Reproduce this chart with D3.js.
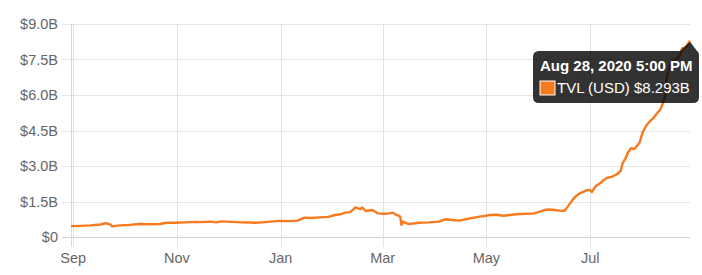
<!DOCTYPE html>
<html>
<head>
<meta charset="utf-8">
<script src="https://cdn.jsdelivr.net/npm/d3@7/dist/d3.min.js"></script>
<style>
  html, body { margin: 0; padding: 0; background: #fff; }
  svg { display: block; font-family: "Liberation Sans", Arial, sans-serif; }
</style>
</head>
<body>
<svg id="chart" width="702" height="275"></svg>
<script>
// ---- data ----
const dates = [
  "2019-08-30T17:00","2019-09-05","2019-09-11","2019-09-17","2019-09-20","2019-09-21","2019-09-23","2019-09-24",
  "2019-09-27","2019-10-01","2019-10-04","2019-10-10","2019-10-16","2019-10-22","2019-10-25","2019-10-28",
  "2019-10-31","2019-11-06","2019-11-12","2019-11-15","2019-11-21","2019-11-24","2019-11-27","2019-12-03",
  "2019-12-09","2019-12-14","2019-12-17","2019-12-23","2019-12-31","2020-01-06","2020-01-11","2020-01-15",
  "2020-01-19","2020-01-24","2020-01-29","2020-02-02","2020-02-05","2020-02-08","2020-02-11","2020-02-14",
  "2020-02-16","2020-02-17","2020-02-18","2020-02-20","2020-02-22","2020-02-24","2020-02-27","2020-03-02",
  "2020-03-05","2020-03-07","2020-03-09","2020-03-11","2020-03-11T12:00","2020-03-12","2020-03-13","2020-03-16",
  "2020-03-20","2020-03-22","2020-03-28","2020-04-03","2020-04-07","2020-04-11","2020-04-15","2020-04-21",
  "2020-04-27","2020-05-01","2020-05-03","2020-05-07","2020-05-11","2020-05-16","2020-05-20","2020-05-25",
  "2020-05-29","2020-06-01","2020-06-04","2020-06-07","2020-06-11","2020-06-13","2020-06-16","2020-06-17",
  "2020-06-19","2020-06-21","2020-06-23","2020-06-25","2020-06-27","2020-06-29","2020-07-01","2020-07-02",
  "2020-07-04","2020-07-07","2020-07-09","2020-07-11","2020-07-14","2020-07-17","2020-07-19","2020-07-20",
  "2020-07-22","2020-07-23","2020-07-25","2020-07-27","2020-07-28","2020-07-30","2020-08-01","2020-08-03",
  "2020-08-04","2020-08-06","2020-08-07","2020-08-09","2020-08-10","2020-08-11","2020-08-12","2020-08-14",
  "2020-08-14T12:00","2020-08-15","2020-08-16","2020-08-17","2020-08-18","2020-08-20","2020-08-21","2020-08-23",
  "2020-08-24","2020-08-26","2020-08-27","2020-08-28T17:00"
];
const tvl = [
  0.46,0.47,0.49,0.53,0.58,0.57,0.52,0.45,
  0.48,0.50,0.51,0.55,0.54,0.55,0.59,0.60,
  0.60,0.62,0.64,0.63,0.65,0.62,0.66,0.64,
  0.62,0.61,0.60,0.63,0.68,0.67,0.69,0.82,
  0.80,0.83,0.85,0.93,0.96,1.03,1.05,1.25,
  1.20,1.18,1.25,1.10,1.12,1.14,1.00,0.98,
  1.00,1.03,0.93,0.88,0.79,0.51,0.65,0.55,
  0.58,0.60,0.62,0.65,0.75,0.72,0.69,0.78,
  0.86,0.90,0.93,0.94,0.90,0.94,0.97,0.98,
  1.00,1.06,1.14,1.16,1.13,1.12,1.11,1.21,
  1.40,1.60,1.75,1.85,1.91,1.98,1.99,1.90,
  2.13,2.28,2.41,2.50,2.55,2.66,2.80,3.10,
  3.35,3.54,3.75,3.72,3.80,3.98,4.45,4.70,
  4.80,4.95,5.01,5.20,5.29,5.35,5.51,5.90,
  6.21,6.70,6.98,7.25,7.41,7.50,7.55,7.69,
  7.97,8.00,8.11,8.293
];
const yTicks = [0, 1.5, 3.0, 4.5, 6.0, 7.5, 9.0];
const yTickLabels = ["$0", "$1.5B", "$3.0B", "$4.5B", "$6.0B", "$7.5B", "$9.0B"];
const xTickDates = ["2019-09-01","2019-11-01","2020-01-01","2020-03-01","2020-05-01","2020-07-01"];
const xTickLabels = ["Sep","Nov","Jan","Mar","May","Jul"];
const seriesName = "TVL (USD)";
const tooltipTitle = "Aug 28, 2020 5:00 PM";
const tooltipValue = "$8.293B";

// ---- chart ----
(function () {
const parse = s => new Date(s.length > 10 ? s : s + "T00:00");
const data = dates.map((d, i) => ({ date: parse(d), value: tvl[i] }));

const svg = d3.select("#chart");
const mLeft = 71, mRight = 690, mTop = 24, mBottom = 237;
const lineColor = "#f77a1e";

const x = d3.scaleTime()
  .domain([data[0].date, data[data.length - 1].date])
  .range([mLeft, mRight]);
const y = d3.scaleLinear().domain([0, 9]).range([mBottom, mTop]);

// horizontal grid
const gH = svg.append("g");
yTicks.forEach((t, i) => {
  gH.append("line")
    .attr("x1", mLeft - 9).attr("x2", mRight)
    .attr("y1", Math.round(y(t)) + 0.5).attr("y2", Math.round(y(t)) + 0.5)
    .attr("stroke", i === 0 ? "#d2d2d2" : "#e6e6e6").attr("stroke-width", 1);
  gH.append("text")
    .attr("x", 58).attr("y", y(t))
    .attr("dy", "0.36em")
    .attr("text-anchor", "end")
    .attr("fill", "#666").attr("font-size", "14.5px")
    .text(yTickLabels[i]);
});

// vertical grid
const gV = svg.append("g");
xTickDates.forEach((d, i) => {
  const xx = Math.round(x(parse(d))) + 0.5;
  gV.append("line")
    .attr("x1", xx).attr("x2", xx)
    .attr("y1", mTop).attr("y2", mBottom + 10)
    .attr("stroke", "#e2e2e2").attr("stroke-width", 1);
  gV.append("text")
    .attr("x", x(parse(d))).attr("y", 263)
    .attr("text-anchor", "middle")
    .attr("fill", "#666").attr("font-size", "14.5px")
    .text(xTickLabels[i]);
});
// y axis line
svg.append("line")
  .attr("x1", mLeft + 0.5).attr("x2", mLeft + 0.5)
  .attr("y1", mTop).attr("y2", mBottom + 10)
  .attr("stroke", "#d8d8d8");

// line
const line = d3.line().x(d => x(d.date)).y(d => y(d.value));
svg.append("path")
  .datum(data)
  .attr("fill", "none")
  .attr("stroke", lineColor)
  .attr("stroke-width", 2.4)
  .attr("stroke-linejoin", "round")
  .attr("d", line);

// tooltip
const last = data[data.length - 1];
const px = x(last.date), py = y(last.value);
const tt = svg.append("g");
tt.append("path")
  .attr("d", `M539,51 H${px - 10} L${px},${py + 1} L${px + 7},51 Q699,51 699,57 V97 Q699,103 693,103 H539 Q533,103 533,97 V57 Q533,51 539,51 Z`)
  .attr("fill", "rgba(0,0,0,0.8)");
tt.append("text")
  .attr("x", 540).attr("y", 70.5)
  .attr("fill", "#fff").attr("font-size", "15px").attr("font-weight", "bold")
  .text(tooltipTitle);
tt.append("rect")
  .attr("x", 540).attr("y", 81).attr("width", 15).attr("height", 14)
  .attr("fill", lineColor).attr("stroke", "#fff").attr("stroke-width", 1);
tt.append("text")
  .attr("x", 557).attr("y", 93)
  .attr("fill", "#fff").attr("font-size", "15px")
  .text(`${seriesName} ${tooltipValue}`);
})();
</script>
</body>
</html>
